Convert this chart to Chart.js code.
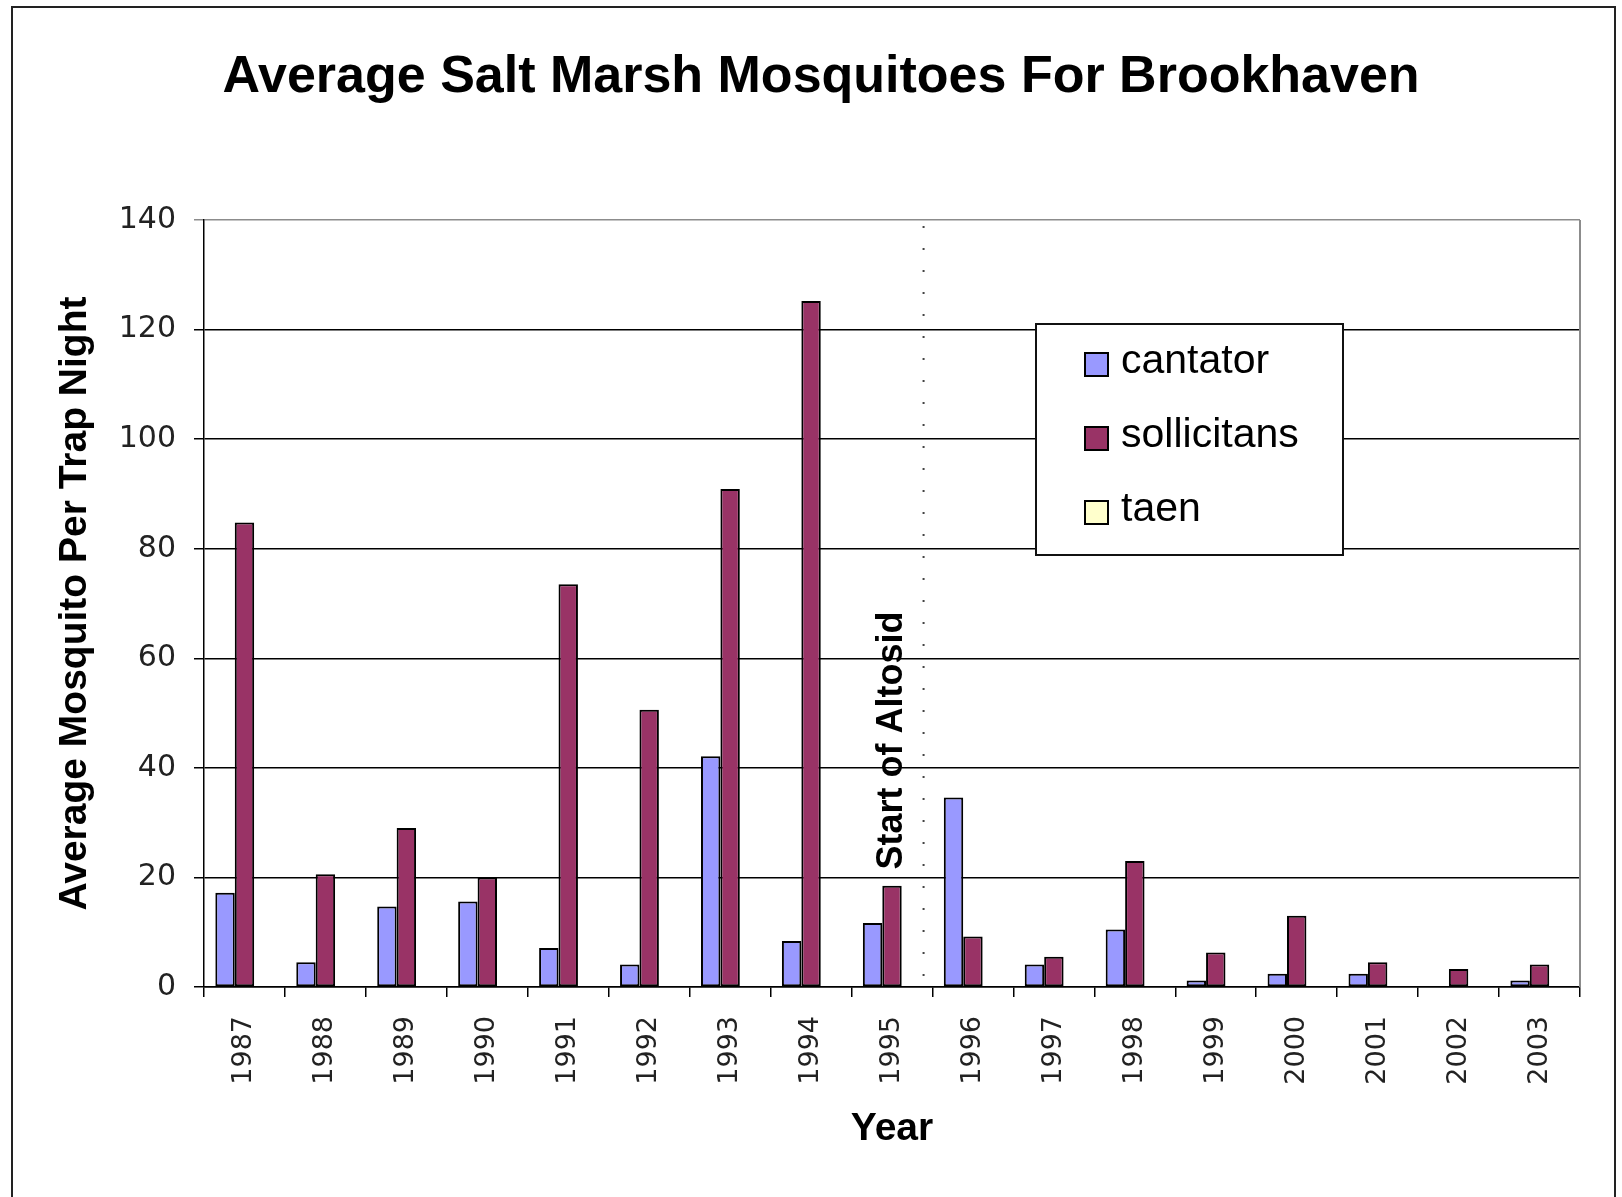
<!DOCTYPE html>
<html>
<head>
<meta charset="utf-8">
<title>Average Salt Marsh Mosquitoes For Brookhaven</title>
<script src="https://cdn.jsdelivr.net/npm/chart.js@4/dist/chart.umd.min.js"></script>
<style>
  html, body { margin: 0; padding: 0; background: #fff; }
  canvas { display: block; }
</style>
</head>
<body>
<canvas id="chart" width="1622" height="1197"></canvas>
<script>
// Survey years (category axis)
const years = ['1987', '1988', '1989', '1990', '1991', '1992', '1993', '1994', '1995',
               '1996', '1997', '1998', '1999', '2000', '2001', '2002', '2003'];

// Average mosquitoes per trap night, by species
const cantator    = [17.2, 4.5, 14.7, 15.6, 7.1, 4.1, 42.1, 8.4, 11.7, 34.6, 4.1, 10.5, 1.2, 2.4, 2.4, 0, 1.2];
const sollicitans = [84.8, 20.6, 29.0, 20.0, 73.5, 50.6, 90.9, 125.2, 18.5, 9.2, 5.5, 23.0, 6.3, 13.0, 4.5, 3.3, 4.1];
const taen        = [0, 0, 0, 0, 0, 0, 0, 0, 0, 0, 0, 0, 0, 0, 0, 0, 0];

// Value axis range
const yMin = 0;
const yMax = 140;
const yStep = 20;

// Start of Altosid treatment, placed on the category axis (between 1995 and 1996)
const altosidPos = 8.39;
const altosidLabelValue = 45;
const altosidText = 'Start of Altosid';

const chartTitle = 'Average Salt Marsh Mosquitoes For Brookhaven';
const yTitle = 'Average Mosquito Per Trap Night';
const xTitle = 'Year';

const ARIAL = "'Liberation Sans', Arial, Helvetica, sans-serif";
const TICKFONT = "'DejaVu Sans', 'Liberation Sans', sans-serif";

// Outer frame and main title
const framePlugin = {
  id: 'frame',
  beforeDraw(chart) {
    const ctx = chart.ctx;
    ctx.save();
    ctx.fillStyle = '#ffffff';
    ctx.fillRect(0, 0, chart.width, chart.height);
    ctx.strokeStyle = '#222';
    ctx.lineWidth = 2;
    ctx.strokeRect(12, 7, 1603, 1260);
    ctx.fillStyle = '#000';
    ctx.font = 'bold 52px ' + ARIAL;
    ctx.textAlign = 'center';
    ctx.textBaseline = 'middle';
    ctx.fillText(chartTitle, 821, 78);
    ctx.restore();
  },
  afterDraw(chart) {
    // right edge of plot area
    const { ctx, chartArea } = chart;
    ctx.save();
    ctx.strokeStyle = '#8c8c8c';
    ctx.lineWidth = 2;
    ctx.beginPath();
    ctx.moveTo(chartArea.right, chartArea.top);
    ctx.lineTo(chartArea.right, chartArea.bottom);
    ctx.stroke();
    ctx.restore();
  }
};

// Dotted marker and vertical label for the start of Altosid
const altosidPlugin = {
  id: 'altosid',
  afterDatasetsDraw(chart) {
    const { ctx, chartArea } = chart;
    const xs = chart.scales.x, ys = chart.scales.y;
    const x = xs.getPixelForValue(altosidPos);
    ctx.save();
    ctx.strokeStyle = '#444';
    ctx.lineWidth = 2;
    ctx.setLineDash([2, 20]);
    ctx.beginPath();
    ctx.moveTo(x, chartArea.top + 6);
    ctx.lineTo(x, chartArea.bottom);
    ctx.stroke();
    ctx.setLineDash([]);
    ctx.translate(x - 31, ys.getPixelForValue(altosidLabelValue));
    ctx.rotate(-Math.PI / 2);
    ctx.fillStyle = '#000';
    ctx.font = 'bold 36px ' + ARIAL;
    ctx.textAlign = 'center';
    ctx.textBaseline = 'middle';
    ctx.fillText(altosidText, 0, 0);
    ctx.restore();
  }
};

// Boxed legend inside the plot area
const boxLegendPlugin = {
  id: 'boxLegend',
  afterDraw(chart) {
    const ctx = chart.ctx;
    const box = { x: 1036, y: 324, w: 307, h: 231 };
    const rows = [362, 436, 510];
    ctx.save();
    ctx.fillStyle = '#fff';
    ctx.fillRect(box.x, box.y, box.w, box.h);
    ctx.strokeStyle = '#111';
    ctx.lineWidth = 2;
    ctx.strokeRect(box.x, box.y, box.w, box.h);
    ctx.font = '41px ' + ARIAL;
    ctx.textAlign = 'left';
    ctx.textBaseline = 'middle';
    chart.data.datasets.forEach((ds, i) => {
      const cy = rows[i];
      ctx.fillStyle = ds.backgroundColor;
      ctx.fillRect(1085, cy - 9, 23, 23);
      ctx.strokeStyle = '#000';
      ctx.lineWidth = 2;
      ctx.strokeRect(1085, cy - 9, 23, 23);
      ctx.fillStyle = '#000';
      ctx.fillText(ds.label, 1121, cy);
    });
    ctx.restore();
  }
};

new Chart(document.getElementById('chart'), {
  type: 'bar',
  data: {
    labels: years,
    datasets: [
      { label: 'cantator',    data: cantator,    backgroundColor: '#9999FF' },
      { label: 'sollicitans', data: sollicitans, backgroundColor: '#993366' },
      { label: 'taen',        data: taen,        backgroundColor: '#FFFFCC' }
    ]
  },
  options: {
    responsive: false,
    animation: false,
    devicePixelRatio: 1,
    layout: { padding: { left: 12, top: 220, right: 42, bottom: 0 } },
    datasets: {
      bar: {
        categoryPercentage: 0.72,
        barPercentage: 1.0,
        borderColor: '#000',
        borderWidth: 2,
        borderSkipped: false
      }
    },
    plugins: {
      legend: { display: false },
      title: { display: false },
      tooltip: { enabled: false }
    },
    scales: {
      x: {
        afterFit(scale) { scale.height = 210; },
        grid: {
          display: true,
          drawOnChartArea: false,
          drawTicks: true,
          tickLength: 10,
          color: '#000',
          lineWidth: 1.5,
          offset: true
        },
        border: { display: true, color: '#000', width: 1.5 },
        ticks: {
          autoSkip: false,
          minRotation: 90,
          maxRotation: 90,
          padding: 19,
          color: '#222',
          font: { family: TICKFONT, size: 27 }
        },
        title: {
          display: true,
          text: xTitle,
          color: '#000',
          font: { family: ARIAL, size: 39, weight: 'bold' },
          padding: { top: 0, bottom: 44 }
        }
      },
      y: {
        min: yMin,
        max: yMax,
        afterFit(scale) { scale.width = 192; },
        grid: {
          color: (c) => (c.tick && c.tick.value === yMax ? '#8c8c8c' : '#000'),
          lineWidth: 1.5,
          drawTicks: true,
          tickLength: 10
        },
        border: { display: true, color: '#000', width: 1.5 },
        ticks: {
          stepSize: yStep,
          padding: 18,
          color: '#222',
          font: { family: TICKFONT, size: 30 }
        },
        title: {
          display: true,
          text: yTitle,
          color: '#000',
          font: { family: ARIAL, size: 39, weight: 'bold' },
          padding: { top: 40, bottom: 0 }
        }
      }
    }
  },
  plugins: [framePlugin, altosidPlugin, boxLegendPlugin]
});
</script>
</body>
</html>
